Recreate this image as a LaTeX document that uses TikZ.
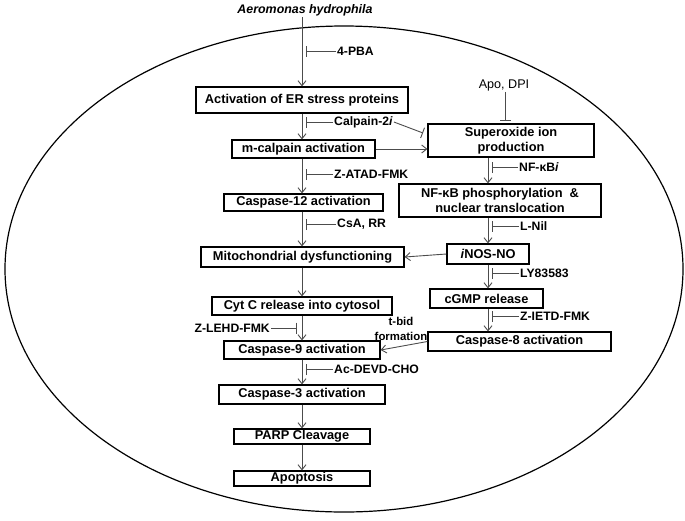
\documentclass[tikz,border=0pt]{standalone}
\usepackage{fontspec}
\setmainfont{Liberation Sans}
\usetikzlibrary{arrows.meta}
\begin{document}
\begin{tikzpicture}[x=1pt,y=-1pt,
  box/.style={draw=black, line width=1.2pt, inner sep=0pt, align=center, font=\bfseries\fontsize{12.8}{14.5}\selectfont},
  lbl/.style={inner sep=1pt, font=\bfseries\fontsize{12.2}{14}\selectfont},
  arr/.style={draw=black!70, line width=0.9pt, -{Straight Barb[length=5pt,width=8pt,line width=0.9pt]}},
  inh/.style={draw=black!70, line width=0.9pt, -{Bar[width=11pt,line width=0.9pt]}}
]
\useasboundingbox (0,0) rectangle (685,520);
\draw[line width=1.2pt] (344,269) ellipse [x radius=339pt, y radius=243pt];

\node[inner sep=1pt, font=\bfseries\itshape\fontsize{12.4}{14}\selectfont] (aer) at (305,10) {Aeromonas hydrophila};

% left column
\node[box, minimum width=212pt, minimum height=26pt] (er) at (302,100) {Activation of ER stress proteins};
\node[box, minimum width=143pt, minimum height=18pt] (mcal) at (303.5,149) {m-calpain activation};
\node[box, minimum width=159pt, minimum height=17pt] (c12) at (303.5,202.5) {Caspase-12 activation};
\node[box, minimum width=203pt, minimum height=20pt] (mito) at (302.5,257) {Mitochondrial dysfunctioning};
\node[box, minimum width=180pt, minimum height=18pt] (cytc) at (302,306) {Cyt C release into cytosol};
\node[box, minimum width=156pt, minimum height=18pt] (c9) at (302,350) {Caspase-9 activation};
\node[box, minimum width=166pt, minimum height=19pt] (c3) at (302,394.5) {Caspase-3 activation};
\node[box, minimum width=136pt, minimum height=15pt] (parp) at (302,436.5) {PARP Cleavage};
\node[box, minimum width=136pt, minimum height=15pt] (apop) at (302,478.5) {Apoptosis};

% right column
\node[box, minimum width=166pt, minimum height=33pt] (sup) at (511,140.5) {Superoxide ion\\production};
\node[box, minimum width=202pt, minimum height=33pt] (nfkb) at (500,200.5) {NF-κB phosphorylation~ \&\\nuclear translocation};
\node[box, minimum width=82pt, minimum height=20pt] (inos) at (488,254) {\textit{i}NOS-NO};
\node[box, minimum width=113pt, minimum height=19pt] (cgmp) at (486.5,298.5) {cGMP release};
\node[box, minimum width=183pt, minimum height=19pt] (c8) at (519.5,341.5) {Caspase-8 activation};

% arrows left
\draw[arr] (aer.south -| er.north) -- (er.north);
\draw[arr] (er.south) -- (er.south |- mcal.north);
\draw[arr] (er.south |- mcal.south) -- (er.south |- c12.north);
\draw[arr] (er.south |- c12.south) -- (er.south |- mito.north);
\draw[arr] (er.south |- mito.south) -- (er.south |- cytc.north);
\draw[arr] (er.south |- cytc.south) -- (er.south |- c9.north);
\draw[arr] (er.south |- c9.south) -- (er.south |- c3.north);
\draw[arr] (er.south |- c3.south) -- (er.south |- parp.north);
\draw[arr] (er.south |- parp.south) -- (er.south |- apop.north);

% arrows right
\draw[arr] (mcal.east) -- (mcal.east -| sup.west);
\draw[arr] (sup.south -| inos.center) -- (nfkb.north -| inos.center);
\draw[arr] (nfkb.south -| inos.center) -- (inos.north);
\draw[arr] (inos.south) -- (inos.south |- cgmp.north);
\draw[arr] (cgmp.south -| inos.center) -- (c8.north -| inos.center);
\draw[arr] (inos.west) -- (mito.east);
\draw[arr] (c8.west) -- (c9.east);
\node[inner sep=0pt, align=center, font=\bfseries\fontsize{11.4}{15}\selectfont] (tbid) at (401,328.5) {t-bid\\formation};

% inhibitor labels
\node[lbl, anchor=west] (pba) at (336,51) {4-PBA};
\node[lbl, anchor=west] (calp) at (333,122) {Calpain-2\textit{i}};
\node[lbl, anchor=west] (zatad) at (333,174.5) {Z-ATAD-FMK};
\node[lbl, anchor=west] (csa) at (336,224.5) {CsA, RR};
\node[lbl, anchor=west] (acdevd) at (333,369.5) {Ac-DEVD-CHO};
\node[lbl, anchor=east] (zlehd) at (271,328) {Z-LEHD-FMK};
\node[lbl, anchor=west] (nfkbi) at (518,167) {NF-κB\textit{i}};
\node[lbl, anchor=west] (lnil) at (519,226) {L-Nil};
\node[lbl, anchor=west] (ly) at (519,273) {LY83583};
\node[lbl, anchor=west] (zietd) at (519,316.5) {Z-IETD-FMK};
\node[inner sep=1pt, font=\fontsize{12.6}{14}\selectfont] (apodpi) at (504,85) {Apo, DPI};

\coordinate (bpba) at (306,51);
\coordinate (bcalp) at (306,122);
\coordinate (bcalp2) at (423,133);
\coordinate (bzatad) at (306,174.5);
\coordinate (bcsa) at (306,224.5);
\coordinate (bacdevd) at (306,369.5);
\coordinate (bzlehd) at (297,328);
\coordinate (bnfkbi) at (492,167);
\coordinate (blnil) at (492,226);
\coordinate (bly) at (492,273);
\coordinate (bzietd) at (492,316.5);
\coordinate (bapo) at (505,121);

\draw[inh] (pba.west) -- (bpba);
\draw[inh] (calp.west) -- (bcalp);
\draw[inh] (calp.east) -- (bcalp2);
\draw[inh] (zatad.west) -- (bzatad);
\draw[inh] (csa.west) -- (bcsa);
\draw[inh] (acdevd.west) -- (bacdevd);
\draw[inh] (zlehd.east) -- (bzlehd);
\draw[inh] (nfkbi.west) -- (bnfkbi);
\draw[inh] (lnil.west) -- (blnil);
\draw[inh] (ly.west) -- (bly);
\draw[inh] (zietd.west) -- (bzietd);
\draw[inh] (apodpi.south -| bapo) -- (bapo);
\end{tikzpicture}
\end{document}
